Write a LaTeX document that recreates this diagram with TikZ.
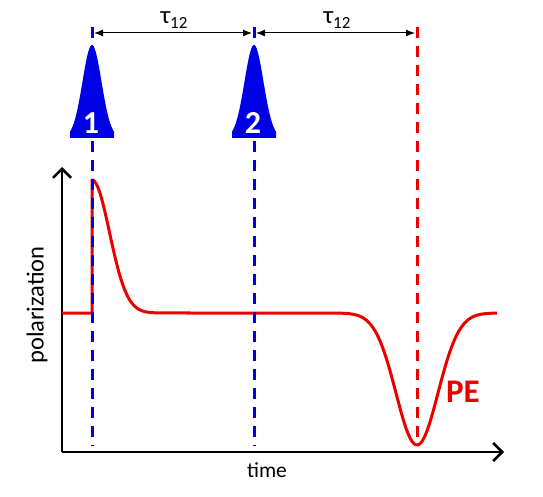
\documentclass[tikz,border=0pt]{standalone}
\usepackage{fontspec}
\setmainfont{Carlito}
\usetikzlibrary{arrows.meta}
\definecolor{pblue}{RGB}{0,0,230}
\definecolor{pred}{RGB}{235,0,0}
\begin{document}
\begin{tikzpicture}[x=1pt,y=-1pt,
  bluedash/.style={pblue,line width=3pt,dash pattern=on 11pt off 8pt},
  reddash/.style={pred,line width=3pt,dash pattern=on 11pt off 8pt},
  curvestyle/.style={pred,line width=3pt,line join=round},
  axisstyle/.style={line width=2.5pt,-{Straight Barb[length=9pt,width=18pt,line width=2.5pt]}},
  dimarrow/.style={line width=1pt,{Latex[length=9pt,width=7pt]}-{Latex[length=9pt,width=7pt]}},
  numlabel/.style={text=white,font=\fontsize{32}{32}\selectfont\bfseries,inner sep=0pt},
  taulabel/.style={font=\fontsize{25}{25}\selectfont,inner sep=0pt},
  axislabel/.style={font=\fontsize{21.5}{21.5}\selectfont,inner sep=0pt},
  pelabel/.style={text=pred,font=\fontsize{33}{33}\selectfont\bfseries,inner sep=0pt}]
\useasboundingbox (0,0) rectangle (543,497);
% axes
\coordinate (origin) at (62,452);
\coordinate (ytip) at (62,167);
\coordinate (xtip) at (504,452);
\draw[axisstyle] (origin) -- (ytip);
\draw[axisstyle] (origin) -- (xtip);
% red polarization curve
\draw[curvestyle] (62,313) -- (92,313) -- (92,180)
  -- plot[domain=92:170,samples=60] (\x,{313-133*exp(-((\x-92)/17.5)*((\x-92)/17.5)/2)})
  -- (340,313)
  -- plot[domain=340:497,samples=120] (\x,{313+132*exp(-((\x-417)/21)*((\x-417)/21)/2)});
% dashed time lines
\coordinate (b1top) at (92,27);
\coordinate (b1bot) at (92,446);
\coordinate (b2top) at (254,27);
\coordinate (b2bot) at (254,446);
\coordinate (r3top) at (417,27);
\coordinate (r3bot) at (417,444);
\draw[bluedash] (b1top) -- (b1bot);
\draw[bluedash] (b2top) -- (b2bot);
\draw[reddash] (r3top) -- (r3bot);
% pulses
\foreach \c/\n in {92/1,254/2}{
  \fill[pblue] (\c-22,138) -- plot[domain=-22:22,samples=70] ({\c+\x},{138-93*exp(-(\x/9.5)*(\x/9.5)/2)}) -- (\c+22,138) -- cycle;
  \node[numlabel] (n\n) at (\c-1,123) {\n};
}
% tau arrows
\coordinate (a1) at (94,33);
\coordinate (a2) at (252,33);
\coordinate (a3) at (256,33);
\coordinate (a4) at (415,33);
\draw[dimarrow] (a1) -- (a2);
\draw[dimarrow] (a3) -- (a4);
\node[taulabel] (tau1) at (174,20) {τ\raisebox{-4.5pt}{\fontsize{17}{17}\selectfont 12}};
\node[taulabel] (tau2) at (337,20) {τ\raisebox{-4.5pt}{\fontsize{17}{17}\selectfont 12}};
% labels
\node[axislabel,rotate=90,font=\fontsize{24.5}{24.5}\selectfont] (ylab) at (37,305) {polarization};
\node[axislabel] (xlab) at (267,470) {time};
\node[pelabel] (pe) at (463,392) {PE};
\end{tikzpicture}
\end{document}
